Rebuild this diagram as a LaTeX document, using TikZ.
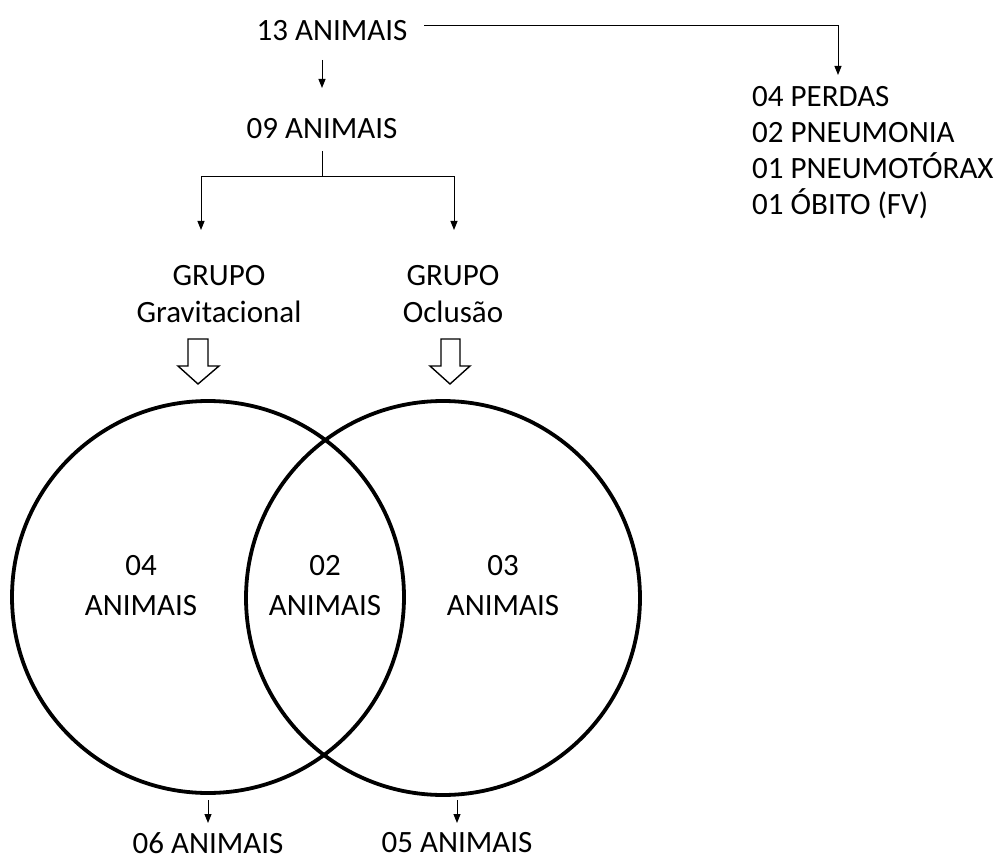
\documentclass[tikz,border=0pt]{standalone}
\usepackage{fontspec}
\setmainfont{Carlito}
\usetikzlibrary{arrows.meta}
\begin{document}
\begin{tikzpicture}[x=1pt,y=-1pt,
  lbl/.style={inner sep=0pt,font=\fontsize{31}{37}\selectfont,align=center},
  conn/.style={line width=1pt,-{Triangle[length=9pt,width=7pt]}},
  circ/.style={line width=3.8pt},
  blk/.style={line width=1.4pt,fill=white,line join=miter}]
\useasboundingbox (0,0) rectangle (1001,861);
\node[lbl] (n13) at (332,31) {13 ANIMAIS};
\node[lbl] (n09) at (322,129) {09 ANIMAIS};
\node[lbl,align=left,anchor=north west,font=\fontsize{31}{36}\selectfont] (loss) at (752,86) {04 PERDAS\\02 PNEUMONIA\\01 PNEUMOTÓRAX\\01 ÓBITO (FV)};
\node[lbl] (gg) at (219,294) {GRUPO\\Gravitacional};
\node[lbl] (go) at (453,294) {GRUPO\\Oclusão};
\node[lbl,font=\fontsize{31}{40}\selectfont] (c04) at (141,586) {04\\ANIMAIS};
\node[lbl,font=\fontsize{31}{40}\selectfont] (c02) at (325,586) {02\\ANIMAIS};
\node[lbl,font=\fontsize{31}{40}\selectfont] (c03) at (503,586) {03\\ANIMAIS};
\node[lbl] (n06) at (208,843) {06 ANIMAIS};
\node[lbl] (n05) at (457,843) {05 ANIMAIS};
% circles
\draw[circ] (208,597) circle (196);
\draw[circ] (443,598) circle (197);
% connectors
\coordinate (a1) at (424,26);
\coordinate (a2) at (838,26);
\draw[conn] (a1) -- (a2) -- (838,75);
\coordinate (b1) at (322,60);
\draw[conn] (b1) -- (322,88);
\coordinate (s1) at (322,151);
\coordinate (s2) at (322,177);
\draw[line width=1pt] (s1) -- (s2);
\draw[conn] (s2) -| (201,230);
\draw[conn] (s2) -| (454,230);
\coordinate (d1) at (208,800);
\draw[conn] (d1) -- (208,823);
\coordinate (d2) at (457,800);
\draw[conn] (d2) -- (457,823);
% block arrows
\draw[blk] (188,339) -- (208,339) -- (208,366) -- (219,366) -- (198,384) -- (178,366) -- (188,366) -- cycle;
\draw[blk] (441,339) -- (460,339) -- (460,366) -- (470,366) -- (450,384) -- (430,366) -- (441,366) -- cycle;
\end{tikzpicture}
\end{document}
